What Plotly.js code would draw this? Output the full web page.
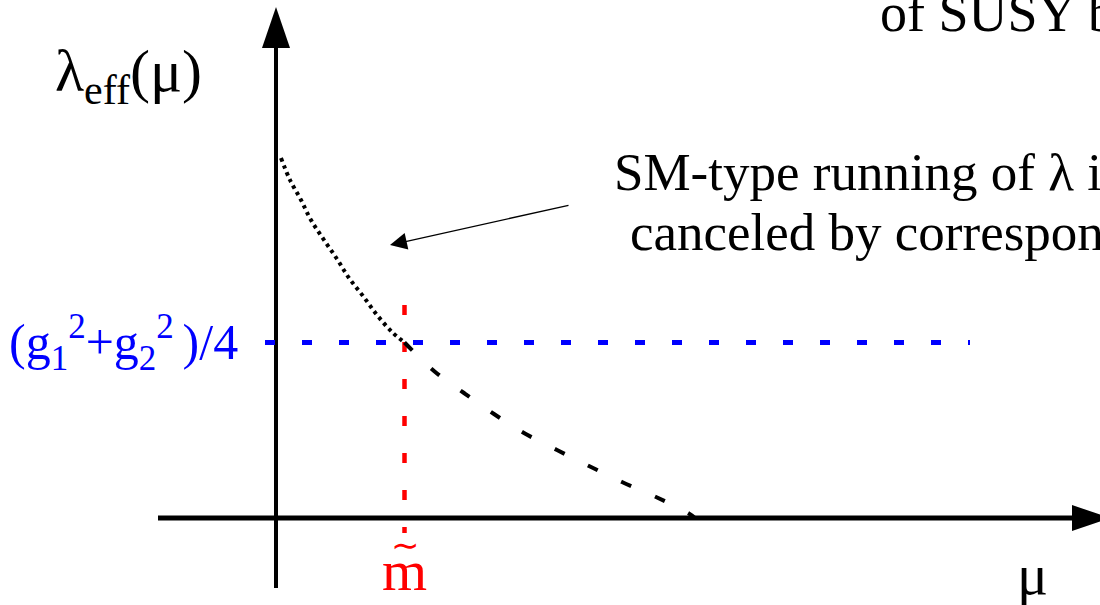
<!DOCTYPE html>
<html>
<head>
<meta charset="utf-8">
<script src="https://cdn.plot.ly/plotly-3.0.1.min.js"></script>
<style>
  html, body { margin: 0; padding: 0; background: #ffffff; }
  #plot { width: 1100px; height: 605px; }
</style>
</head>
<body>
<div id="plot"></div>
<script>
// Effective quartic coupling versus renormalisation scale mu (schematic units).
// Below the superpartner scale m~ : SM-type running (dotted).
const muBelow  = [0.05, 0.14, 0.25, 0.35, 0.48, 0.61, 0.73, 0.87, 1.01, 1.16, 1.285];
const lamBelow = [3.60, 3.38, 3.18, 2.98, 2.78, 2.59, 2.40, 2.22, 2.03, 1.86, 1.755];
// Above m~ : continued running (dashed).
const muAbove  = [1.285, 1.58, 1.88, 2.18, 2.48, 2.81, 3.13, 3.46, 3.80, 4.12, 4.19];
const lamAbove = [1.755, 1.47, 1.25, 1.04, 0.85, 0.68, 0.52, 0.36, 0.21, 0.05, 0.00];

// Reference levels
const mTilde = 1.285;          // superpartner mass scale
const gaugeLevel = 1.755;      // (g1^2 + g2^2)/4
const gaugeSpan = [-0.11, 6.94];
const mTildeSpan = [-0.15, 2.13];

// Labels
const yLabel = 'λ<sub>eff</sub>(μ)';
const xLabel = 'μ';
const gaugeLabel = '(g<sub>1</sub><sup>2</sup>+g<sub>2</sub><sup>2 </sup>)/4';
const mTildeBase = 'm';
const mTildeMark = '\u223C';
const noteLines = ['SM-type running of λ i', 'canceled by correspon'];
const topLine = 'of SUSY b';

const serif = 'Liberation Serif, Times New Roman, serif';

// Axis frame (data units)
const xAxisStart = -1.18, xAxisEnd = 7.96, xHeadTip = 8.34, xHeadHalf = 0.13;
const yAxisStart = -0.70, yAxisEnd = 4.70, yHeadTip = 5.11, yHeadHalf = 0.14;

function poly(pts) {
  return 'M' + pts.map(p => p[0] + ',' + p[1]).join('L') + 'Z';
}

const traces = [
  { x: [0, 0], y: [yAxisStart, yAxisEnd], mode: 'lines',
    line: { color: '#000', width: 4 }, hoverinfo: 'skip' },
  { x: [xAxisStart, xAxisEnd], y: [0, 0], mode: 'lines',
    line: { color: '#000', width: 5 }, hoverinfo: 'skip' },
  { x: gaugeSpan, y: [gaugeLevel, gaugeLevel], mode: 'lines',
    line: { color: '#0000ff', width: 5, dash: '10px,27px' }, hoverinfo: 'skip' },
  { x: [mTilde, mTilde], y: [mTildeSpan[1], mTildeSpan[0]], mode: 'lines',
    line: { color: '#ff0000', width: 4.5, dash: '10px,27px' }, hoverinfo: 'skip' },
  { x: muBelow, y: lamBelow, mode: 'lines',
    line: { color: '#000', width: 4, dash: '3.5px,4px', shape: 'spline' }, hoverinfo: 'skip' },
  { x: muAbove, y: lamAbove, mode: 'lines',
    line: { color: '#000', width: 4, dash: '11px,26px', shape: 'spline' }, hoverinfo: 'skip' }
];

const shapes = [
  { type: 'path', xref: 'x', yref: 'y', fillcolor: '#000', line: { width: 0 },
    path: poly([[-yHeadHalf, yAxisEnd], [yHeadHalf, yAxisEnd], [0, yHeadTip]]) },
  { type: 'path', xref: 'x', yref: 'y', fillcolor: '#000', line: { width: 0 },
    path: poly([[xAxisEnd, -xHeadHalf], [xAxisEnd, xHeadHalf], [xHeadTip, 0]]) }
];

const annotations = [
  { x: -1.48, y: 4.43, xref: 'x', yref: 'y', text: yLabel, showarrow: false,
    font: { family: serif, size: 60, color: '#000' } },
  { x: 7.56, y: -0.56, xref: 'x', yref: 'y', text: xLabel, showarrow: false,
    font: { family: serif, size: 58, color: '#000' } },
  { x: -0.36, y: gaugeLevel, xref: 'x', yref: 'y', xanchor: 'right', text: gaugeLabel,
    showarrow: false, font: { family: serif, size: 50, color: '#0000ff' } },
  { x: mTilde, y: -0.52, xref: 'x', yref: 'y', text: mTildeBase, showarrow: false,
    font: { family: serif, size: 58, color: '#ff0000' } },
  { x: mTilde, y: -0.27, xref: 'x', yref: 'y', text: mTildeMark, showarrow: false,
    font: { family: serif, size: 34, color: '#ff0000' } },
  { x: 3.36, y: 3.46, xref: 'x', yref: 'y', xanchor: 'left', text: noteLines[0],
    showarrow: false, font: { family: serif, size: 53, color: '#000' } },
  { x: 3.52, y: 2.86, xref: 'x', yref: 'y', xanchor: 'left', text: noteLines[1],
    showarrow: false, font: { family: serif, size: 53, color: '#000' } },
  { x: 6.02, y: 5.05, xref: 'x', yref: 'y', xanchor: 'left', text: topLine,
    showarrow: false, font: { family: serif, size: 54, color: '#000' } },
  // pointer from the note to the SM-type branch
  { x: 1.14, y: 2.73, ax: 2.94, ay: 3.13, xref: 'x', yref: 'y', axref: 'x', ayref: 'y',
    text: '', showarrow: true, arrowhead: 2, arrowsize: 2.6, arrowwidth: 1.3,
    arrowcolor: '#000', standoff: 0 }
];

const layout = {
  width: 1100, height: 605,
  margin: { l: 0, r: 0, t: 0, b: 0 },
  paper_bgcolor: '#fff', plot_bgcolor: '#fff',
  showlegend: false,
  xaxis: { range: [-2.76, 8.24], visible: false, fixedrange: true },
  yaxis: { range: [-0.87, 5.18], visible: false, fixedrange: true },
  shapes: shapes,
  annotations: annotations
};

Plotly.newPlot('plot', traces, layout, { displayModeBar: false, staticPlot: true });
</script>
</body>
</html>
